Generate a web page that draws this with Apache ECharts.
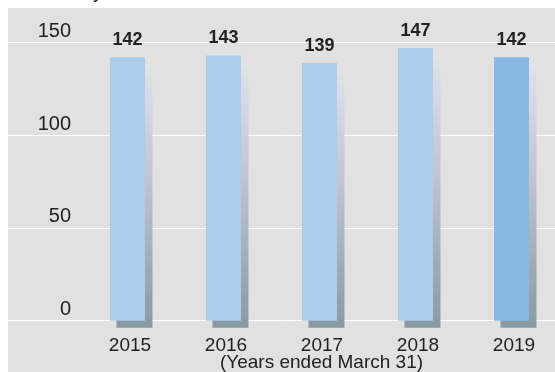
<!DOCTYPE html>
<html>
<head>
<meta charset="utf-8">
<script src="https://cdn.jsdelivr.net/npm/echarts@6/dist/echarts.min.js"></script>
<style>
html,body{margin:0;padding:0;background:#fff;}
#wrap{position:relative;width:555px;height:372px;overflow:hidden;}
#bg{position:absolute;left:8px;top:8px;width:547px;height:364px;background:#e1e1e1;}
#chart{position:absolute;left:0;top:0;width:555px;height:372px;}
</style>
</head>
<body>
<div id="wrap"><div id="bg"></div><div id="chart"></div></div>
<script>
var categories = ['2015', '2016', '2017', '2018', '2019'];
var values = [142, 143, 139, 147, 142];
var yTicks = [0, 50, 100, 150];
var xAxisTitle = '(Years ended March 31)';
var topFragment = 'y';

var chart = echarts.init(document.getElementById('chart'), null, {renderer: 'canvas'});

var yMin = yTicks[0], yMax = yTicks[yTicks.length - 1], yStep = yTicks[1] - yTicks[0];
var font = 'Liberation Sans, Arial, Helvetica, sans-serif';

function hiddenY(idx) {
  return {gridIndex: idx, type: 'value', min: yMin, max: yMax, interval: yStep, show: false, splitLine: {show: false}};
}

var option = {
  backgroundColor: 'transparent',
  animation: false,
  textStyle: {fontFamily: font},
  graphic: [{
    type: 'text', left: 93, top: -18,
    style: {text: topFragment, fontSize: 20, fill: '#222', fontFamily: font}
  }],
  grid: [
    {left: 8, right: 0, top: 42.5, height: 278.2, containLabel: false, outerBoundsMode: 'none'},
    {left: 79.5, width: 480, top: 42.5, height: 278.2, containLabel: false, outerBoundsMode: 'none'},
    {left: 86.5, width: 480, top: 49.5, height: 278.2, containLabel: false, outerBoundsMode: 'none'}
  ],
  xAxis: [
    {gridIndex: 0, type: 'category', data: categories, show: false},
    {gridIndex: 1, type: 'category', data: categories,
      axisLine: {show: false}, axisTick: {show: false},
      axisLabel: {fontSize: 19, color: '#222', margin: 16, padding: [0, 0, 0, 5], fontFamily: font},
      name: xAxisTitle, nameLocation: 'middle', nameGap: 33, nameMoveOverlap: false,
      nameTextStyle: {fontSize: 19, color: '#222', fontFamily: font, padding: [0, 0, 0, 4]}
    },
    {gridIndex: 2, type: 'category', data: categories, show: false}
  ],
  yAxis: [
    {gridIndex: 0, type: 'value', min: yMin, max: yMax, interval: yStep,
      axisLine: {show: false}, axisTick: {show: false},
      splitLine: {show: true, lineStyle: {color: '#ffffff', width: 1}},
      axisLabel: {inside: true, margin: 63, align: 'right', verticalAlign: 'bottom',
        lineHeight: 22, fontSize: 20, color: '#222', fontFamily: font}
    },
    hiddenY(1),
    hiddenY(2)
  ],
  series: [
    {
      type: 'bar', xAxisIndex: 2, yAxisIndex: 2, data: values, barWidth: 36, z: 1,
      itemStyle: {color: new echarts.graphic.LinearGradient(0, 0, 0, 1, [
        {offset: 0, color: '#e2e1ec'},
        {offset: 0.5, color: '#b9c0cc'},
        {offset: 1, color: '#879aa4'}
      ])},
      silent: true
    },
    {
      type: 'bar', xAxisIndex: 1, yAxisIndex: 1, barWidth: 35, z: 3,
      data: values.map(function (v, i) {
        return {value: v, itemStyle: {color: i === values.length - 1 ? '#86b9e3' : '#abcdeb'}};
      }),
      label: {show: true, position: 'top', distance: 8, fontSize: 18, fontWeight: 'bold',
        color: '#222', fontFamily: font}
    }
  ]
};
chart.setOption(option);
</script>
</body>
</html>
